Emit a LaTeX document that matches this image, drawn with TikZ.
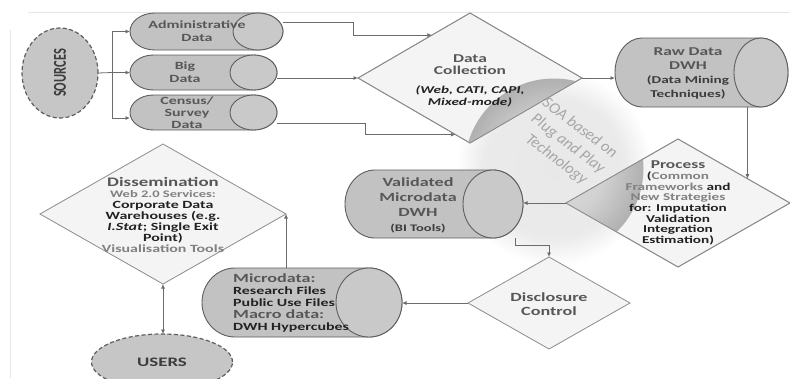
\documentclass[tikz,border=0pt]{standalone}
\usepackage{fontspec}
\usepackage{graphicx}
\setmainfont{Carlito}[FakeStretch=1.45]
\newfontfamily\plainfont{Carlito}
\usetikzlibrary{shapes.geometric,arrows.meta,calc}
\definecolor{canfill}{HTML}{C2C2C2}
\definecolor{capfill}{HTML}{C9C9C9}
\definecolor{edgec}{HTML}{5E5E5E}
\definecolor{blobfill}{HTML}{C6C6C6}
\definecolor{diafill}{HTML}{F4F4F4}
\definecolor{diaedge}{HTML}{8C8C8C}
\definecolor{connc}{HTML}{6C6C6C}
\definecolor{thead}{HTML}{575757}
\definecolor{tlight}{HTML}{808080}
\definecolor{tsub}{HTML}{3C3C3C}
\definecolor{tdark}{HTML}{222222}
\definecolor{soac}{HTML}{A6A6A6}
\definecolor{framec}{HTML}{E6E6E6}
\pgfdeclareradialshading{soahalo}{\pgfpoint{0bp}{0bp}}{color(0bp)=(black!9); color(18bp)=(black!8); color(25bp)=(white); color(50bp)=(white)}
\pgfdeclareradialshading{soadark}{\pgfpoint{0bp}{0bp}}{color(0bp)=(black!13); color(14bp)=(black!18); color(25bp)=(black!31); color(50bp)=(black!31)}
\newcommand\fsz[2]{\fontsize{#1}{#2}\selectfont}
% #1 name, #2 left x, #3 right x, #4 top y, #5 bottom y, #6 end radius
\newcommand\mycan[6]{%
  \pgfmathsetmacro\cxl{#2+#6}\pgfmathsetmacro\cxr{#3-#6}%
  \pgfmathsetmacro\cyy{(#4+#5)/2}\pgfmathsetmacro\cry{(#5-#4)/2}%
  \pgfmathsetmacro\cww{#3-#2}\pgfmathsetmacro\chh{#5-#4}%
  \draw[canbody] (\cxl,#4) -- (\cxr,#4) arc[start angle=90,end angle=-90,x radius=#6pt,y radius=\cry pt]
     -- (\cxl,#5) arc[start angle=270,end angle=90,x radius=#6pt,y radius=\cry pt] -- cycle;
  \draw[cancap] (\cxr,\cyy) ellipse[x radius=#6pt,y radius=\cry pt];
  \node[inner sep=0pt,outer sep=0pt,minimum width=\cww pt,minimum height=\chh pt] (#1) at ({(#2+#3)/2},\cyy) {};
}
\begin{document}
\begin{tikzpicture}[x=1pt,y=-1pt,
  conn/.style={draw=connc, line width=0.8pt},
  arr/.style={conn, -{Latex[length=4.5pt,width=4pt]}},
  arrboth/.style={conn, {Latex[length=4.5pt,width=4pt]}-{Latex[length=4.5pt,width=4pt]}},
  dia/.style={diamond, draw=diaedge, line width=0.8pt, fill=diafill, inner sep=0pt, outer sep=0pt},
  dialine/.style={draw=diaedge, line width=0.8pt},
  blob/.style={ellipse, draw=edgec, line width=1.2pt, dash pattern=on 4pt off 2.5pt, fill=blobfill, inner sep=0pt, outer sep=0pt},
  canbody/.style={draw=edgec, line width=0.9pt, fill=canfill},
  cancap/.style={draw=edgec, line width=0.9pt, fill=capfill},
  txt/.style={align=center, inner sep=0pt}
]
\useasboundingbox (0,0) rectangle (790,378);
\fill[white] (0,0) rectangle (790,378);
\clip (0,0) rectangle (790,378);
\draw[framec, line width=1pt] (28,12) -- (790,12);
\draw[framec, line width=1pt] (10,30) -- (10,378);

% SOA halo
\coordinate (soa) at (554,168);
\shade[shading=soahalo] (soa) circle[radius=98pt];

% diamonds
\node[dia, minimum width=224pt, minimum height=130pt] (dc) at (470,78) {};
\node[dia, minimum width=224pt, minimum height=128pt] (proc) at (678,203) {};
\node[dia, minimum width=246pt, minimum height=140pt] (dis) at (163,214) {};
\node[dia, minimum width=162pt, minimum height=92pt] (disc) at (549,303) {};

\begin{scope}
  \clip (soa) circle[radius=89.5pt];
  \clip (dc.north) -- (dc.east) -- (dc.south) -- (dc.west) -- cycle
        (proc.north) -- (proc.east) -- (proc.south) -- (proc.west) -- cycle;
  \shade[shading=soadark] (soa) circle[radius=89.5pt];
\end{scope}
\draw[dialine] (dc.north) -- (dc.east) -- (dc.south) -- (dc.west) -- cycle;
\draw[dialine] (proc.north) -- (proc.east) -- (proc.south) -- (proc.west) -- cycle;

\node[txt, rotate=-37, text=soac, font=\plainfont\itshape\fsz{16}{19.5}] (soat) at (568,144) {SOA based on\\Plug and Play\\Technology};

% cylinders
\mycan{adm}{130}{283}{13}{50}{25}
\mycan{big}{130}{277}{55}{90}{23.5}
\mycan{cen}{130}{277}{95}{130}{23.5}
\mycan{raw}{615}{788}{38}{107}{27}
\mycan{val}{345}{523}{170}{238}{30}
\mycan{mic}{202}{402}{268}{337}{33}

% ellipses
\node[blob, minimum width=76pt, minimum height=90pt] (src) at (60,73)
  {\scalebox{1.45}[1]{\rotatebox{90}{\plainfont\bfseries\fsz{12.5}{14}\color{tsub}SOURCES}}};
\node[blob, minimum width=141pt, minimum height=56pt, font=\bfseries\fsz{13}{14}, text=tsub] (usr) at (162,362) {USERS};

% connectors
\coordinate (fork) at (112,72.5);
\draw[conn] (src.east) -- (fork);
\draw[arr] (fork) |- (adm.west);
\draw[arr] (fork) -- (big.west);
\draw[arr] (fork) |- ([yshift=-5.5pt]cen.west);
\coordinate (dcA) at ($(dc.west)!0.66!(dc.north)$);
\coordinate (dcB) at ($(dc.west)!0.87!(dc.south)$);
\draw[arr] ([yshift=9pt]adm.east) -- ++(70,0) |- (dcA);
\draw[arr] (big.east |- dc.west) -- (dc.west);
\draw[arr] ([yshift=-10.5pt]cen.east) -- ++(88,0) |- (dcB);
\draw[arr] (dc.east) -- (dc.east -| raw.west);
\coordinate (prA) at ($(proc.north)!0.62!(proc.east)$);
\draw[arr] (raw.south -| prA) -- (prA);
\draw[arr] (proc.west) -- (proc.west -| val.east);
\draw[arr] ([xshift=81pt]val.south) -- ++(0,7) -| (disc.north);
\draw[arr] (disc.west) -- (disc.west -| mic.east);
\draw[arr] (dis.east |- mic.north) -- (dis.east);
\draw[arrboth] (dis.south) -- (dis.south |- usr.north);

% texts
\node[txt, text=thead, font=\bfseries\fsz{11}{12.5}] (admt) at (197,31) {Administrative\\Data};
\node[txt, text=thead, font=\bfseries\fsz{11}{13}] (bigt) at (185,72.5) {Big\\Data};
\node[txt, text=thead, font=\bfseries\fsz{11}{12}] (cent) at (187,112.5) {Census/\\Survey\\Data};
\node[txt, font=\bfseries\fsz{12}{12.5}] (dct) at (470,81)
  {\textcolor{thead}{Data}\\\textcolor{thead}{Collection}\\[6pt]{\fsz{10.5}{12}\itshape\textcolor{tdark}{(Web, CATI, CAPI,}}\\{\fsz{10.5}{12}\itshape\textcolor{tdark}{Mixed-mode)}}};
\node[txt, font=\bfseries\fsz{12}{14}] (rawt) at (688,73)
  {\textcolor{thead}{Raw Data}\\\textcolor{thead}{DWH}\\{\fsz{10.5}{14}\textcolor{tsub}{(Data Mining}}\\{\fsz{10.5}{14}\textcolor{tsub}{Techniques)}}};
\node[txt, text=tdark, font=\bfseries\fsz{10.5}{10.7}] (proct) at (678,203)
  {{\fsz{12}{10.7}\textcolor{thead}{Process}}\\(\textcolor{tlight}{Common}\\\textcolor{tlight}{Frameworks} and\\\textcolor{tlight}{New Strategies}\\for: Imputation\\Validation\\Integration\\Estimation)};
\node[txt, text=thead, font=\bfseries\fsz{12.5}{15}] (valt) at (418,205)
  {Validated\\Microdata\\DWH\\{\fsz{10}{15}\textcolor{tsub}{(BI Tools)}}};
\node[txt, text=thead, font=\bfseries\fsz{12.5}{14}] (disct) at (549,304) {Disclosure\\Control};
\node[align=left, inner sep=0pt, anchor=west, text=tdark, font=\bfseries\fsz{11}{11.8}] (mict) at (233,303)
  {{\fsz{12.5}{11.8}\textcolor{thead}{Microdata:}}\\Research Files\\Public Use Files\\{\fsz{12.5}{11.8}\textcolor{thead}{Macro data:}}\\DWH Hypercubes};
\node[txt, text=tdark, font=\bfseries\fsz{11}{11}] (dist) at (163,215)
  {{\fsz{13}{11}\textcolor{thead}{Dissemination}}\\{\fsz{10}{11}\textcolor{tlight}{Web 2.0 Services:}}\\Corporate Data\\Warehouses (e.g.\\\textit{I.Stat}; Single Exit\\Point)\\\textcolor{tlight}{Visualisation Tools}};
\end{tikzpicture}
\end{document}
